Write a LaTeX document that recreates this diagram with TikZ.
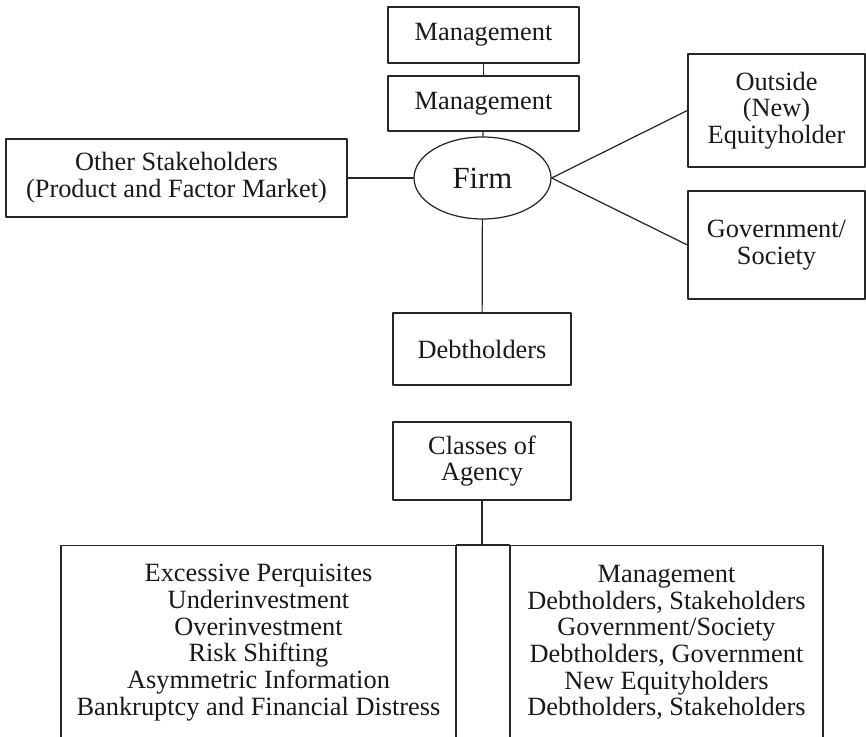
\documentclass[tikz,border=0pt]{standalone}
\usepackage{fontspec}
\setmainfont{Liberation Serif}
\usetikzlibrary{shapes.geometric}

\begin{document}
\begin{tikzpicture}[line cap=round, line join=round, scale=1.0,
    box/.style={draw=black!85, line width=0.7pt, inner sep=0pt, align=center,
        text=black!90, font=\fontsize{15}{15.2}\selectfont},
    link/.style={draw=black!85, line width=0.7pt}]
    % Frame (the lower boxes run off the bottom edge)
    \clip (0,0) rectangle (17.32,14.72);

    % Firm and its claimants
    \node[box, minimum width=3.82cm, minimum height=1.12cm] (mgmttop) at (9.67,14.02) {Management};
    \node[box, minimum width=3.82cm, minimum height=1.10cm] (mgmt) at (9.67,12.65) {Management};
    \node[box, ellipse, minimum width=2.74cm, minimum height=1.64cm,
        font=\fontsize{17.5}{18}\selectfont] (firm) at (9.65,11.16) {Firm};
    \node[box, minimum width=6.82cm, minimum height=1.56cm] (others) at (3.53,11.16)
        {Other Stakeholders\\(Product and Factor Market)};
    \node[box, minimum width=3.54cm, minimum height=2.26cm] (equity) at (15.53,12.51)
        {Outside\\(New)\\Equityholder};
    \node[box, minimum width=3.54cm, minimum height=2.16cm] (govt) at (15.53,9.82)
        {Government/\\Society};
    \node[box, minimum width=3.56cm, minimum height=1.44cm] (debt) at (9.64,7.74) {Debtholders};

    \draw[link] (mgmttop) -- (mgmt);
    \draw[link] (mgmt) -- (firm);
    \draw[link] (others) -- (firm);
    \draw[link] (firm.east) -- (equity.west);
    \draw[link] (firm.east) -- (govt.west);
    \draw[link] (firm) -- (debt);

    % Classes of agency
    \node[box, minimum width=3.56cm, minimum height=1.56cm] (classes) at (9.64,5.50)
        {Classes of\\Agency};
    \node[box, anchor=north, minimum width=7.90cm, minimum height=3.88cm] (problems) at (5.17,3.82)
        {Excessive Perquisites\\Underinvestment\\Overinvestment\\Risk Shifting\\
         Asymmetric Information\\Bankruptcy and Financial Distress};
    \node[box, anchor=north, minimum width=6.26cm, minimum height=3.88cm] (parties) at (13.33,3.82)
        {Management\\Debtholders, Stakeholders\\Government/Society\\
         Debtholders, Government\\New Equityholders\\Debtholders, Stakeholders};

    \coordinate (split) at (classes.south |- problems.north);
    \draw[link] (classes) -- (split);
    \draw[link] (problems.north east) -- (parties.north west);

\end{tikzpicture}
\end{document}
